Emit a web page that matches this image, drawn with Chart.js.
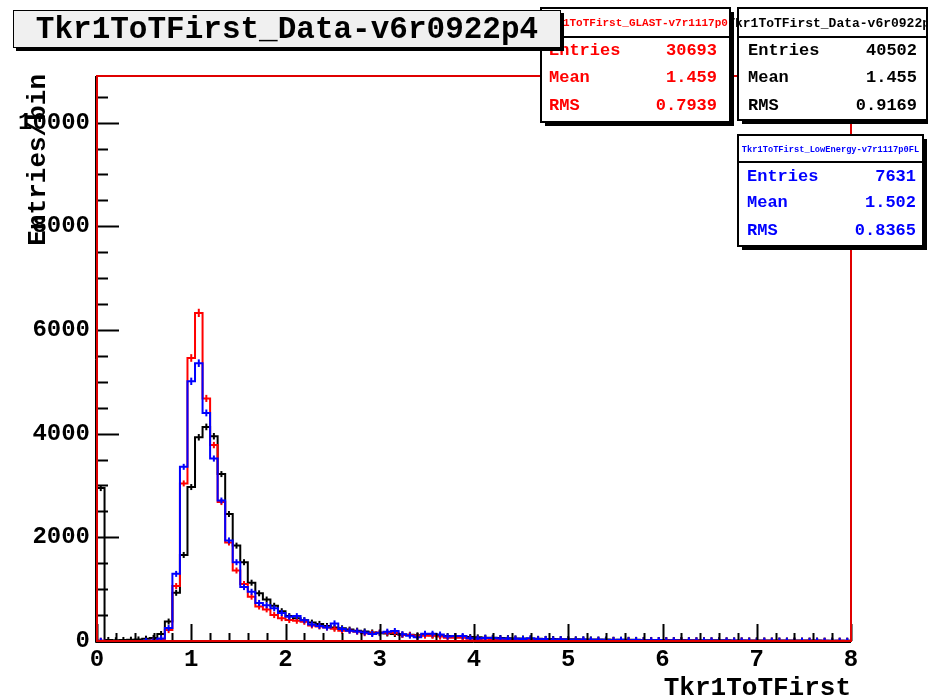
<!DOCTYPE html>
<html><head><meta charset="utf-8">
<script src="https://cdn.jsdelivr.net/npm/chart.js@4.4.1/dist/chart.umd.min.js"></script>
<style>html,body{margin:0;padding:0;background:#fff;overflow:hidden}#wrap{width:928px;height:699px;position:relative}</style>
</head><body><div id="wrap"><canvas id="c" width="928" height="699"></canvas></div>
<script>
// ---- binning ----
const xMin = 0, xMax = 8, nBins = 100;
const yMax = 10900;
const xTickValues = [0, 1, 2, 3, 4, 5, 6, 7, 8];
const yTickValues = [0, 2000, 4000, 6000, 8000, 10000];

// ---- series (entries per bin, 100 bins of width 0.08) ----
const dataCounts = [
  2950, 20, 15, 20, 25, 30, 45, 60, 135, 375,
  930, 1660, 2970, 3930, 4130, 3950, 3220, 2450, 1840, 1520,
  1125, 920, 800, 680, 575, 480, 440, 400, 355, 330,
  290, 260, 245, 220, 200, 185, 165, 150, 145, 135,
  125, 120, 110, 120, 110, 100, 95, 90, 80, 75,
  70, 65, 62, 58, 55, 50, 48, 45, 42, 40,
  38, 36, 34, 33, 31, 30, 28, 27, 25, 24,
  23, 22, 21, 20, 19, 18, 17, 17, 16, 15,
  15, 14, 13, 13, 12, 12, 11, 11, 10, 10,
  9, 9, 9, 8, 8, 8, 7, 7, 7, 6
];
const glastCounts = [
  5, 0, 0, 0, 0, 0, 2, 8, 30, 210,
  1060, 3040, 5460, 6330, 4680, 3780, 2680, 1900, 1360, 1100,
  855, 665, 610, 500, 440, 405, 390, 370, 300, 280,
  260, 235, 200, 200, 180, 150, 148, 165, 160, 160,
  118, 115, 97, 103, 103, 85, 65, 65, 64, 45,
  40, 42, 38, 35, 30, 32, 28, 25, 27, 22,
  20, 22, 18, 17, 16, 18, 14, 13, 15, 12,
  11, 12, 10, 9, 11, 9, 8, 9, 7, 8,
  7, 6, 7, 6, 5, 6, 5, 5, 4, 5,
  4, 4, 3, 4, 3, 3, 3, 2, 3, 2
];
const lowEnergyCounts = [
  4, 0, 0, 0, 0, 0, 3, 10, 50, 250,
  1295, 3360, 5010, 5360, 4400, 3520, 2710, 1940, 1520, 1040,
  950, 735, 690, 630, 540, 470, 480, 400, 320, 290,
  260, 340, 232, 200, 185, 165, 135, 160, 180, 193,
  130, 103, 70, 140, 140, 125, 85, 97, 95, 55,
  50, 60, 60, 50, 45, 45, 40, 55, 35, 40,
  30, 35, 28, 25, 30, 22, 25, 20, 18, 22,
  16, 18, 15, 14, 17, 12, 13, 11, 12, 10,
  9, 11, 8, 9, 7, 8, 6, 7, 6, 5,
  6, 5, 4, 5, 4, 4, 3, 4, 3, 3
];

// ---- texts ----
const chartTitle = 'Tkr1ToTFirst_Data-v6r0922p4';
const xTitle = 'Tkr1ToTFirst';
const yTitle = 'Entries/bin';
const statLabels = ['Entries', 'Mean', 'RMS'];
const dataName = 'Tkr1ToTFirst_Data-v6r0922p4';
const dataStats = ['40502', '1.455', '0.9169'];
const glastName = 'Tkr1ToTFirst_GLAST-v7r1117p0';
const glastStats = ['30693', '1.459', '0.7939'];
const lowName = 'Tkr1ToTFirst_LowEnergy-v7r1117p0FL';
const lowStats = ['7631', '1.502', '0.8365'];

const FONT = '"Liberation Mono", "Courier New", monospace';
const binW = (xMax - xMin) / nBins;

function stepPoints(counts) {
  const pts = [{x: xMin, y: 0}];
  counts.forEach((v, i) => pts.push({x: xMin + i * binW, y: v}));
  pts.push({x: xMax, y: counts[counts.length - 1]});
  pts.push({x: xMax, y: 0});
  return pts;
}
function errPoints(counts) {
  return counts.map((v, i) => ({x: xMin + (i + 0.5) * binW, y: v > 0 ? v : null}));
}
function errRadius(ctx) {
  const s = ctx.chart.scales.y; const v = ctx.raw && ctx.raw.y;
  if (!v) return 0;
  return Math.max(3, s.getPixelForValue(0) - s.getPixelForValue(Math.sqrt(v)));
}
function histSet(counts, color, order) {
  return {type: 'line', data: stepPoints(counts), borderColor: color, borderWidth: 2,
    stepped: true, pointRadius: 0, fill: false, order: order, spanGaps: true};
}
function errSet(counts, color, order) {
  return {type: 'scatter', data: errPoints(counts), borderColor: color, backgroundColor: color,
    pointStyle: 'line', rotation: 90, borderWidth: 2, radius: errRadius, showLine: false, order: order};
}

const decorPlugin = {
  id: 'decor',
  afterDatasetsDraw(chart) {
    const ctx = chart.ctx, ca = chart.chartArea, xs = chart.scales.x, ys = chart.scales.y;
    ctx.save();
    // ticks inside frame
    ctx.strokeStyle = '#000'; ctx.lineWidth = 2;
    for (let k = 0; k * 500 <= yMax; k++) {
      const py = Math.round(ys.getPixelForValue(k * 500)) + 0.5;
      const len = (k % 4 === 0) ? 22 : 11;
      ctx.beginPath(); ctx.moveTo(ca.left, py); ctx.lineTo(ca.left + len, py); ctx.stroke();
    }
    for (let k = 0; k <= 40; k++) {
      const px = Math.round(xs.getPixelForValue(xMin + k * 0.2)) + 0.5;
      const len = (k % 5 === 0) ? 17 : 8;
      ctx.beginPath(); ctx.moveTo(px, ca.bottom); ctx.lineTo(px, ca.bottom - len); ctx.stroke();
    }
    // frame
    ctx.strokeStyle = '#000'; ctx.lineWidth = 1;
    ctx.beginPath(); ctx.moveTo(ca.left - 1.5, ca.top); ctx.lineTo(ca.left - 1.5, ca.bottom + 1.5); ctx.lineTo(ca.right, ca.bottom + 1.5); ctx.stroke();
    ctx.strokeStyle = '#e00000'; ctx.lineWidth = 2;
    ctx.strokeRect(ca.left, ca.top, ca.right - ca.left, ca.bottom - ca.top);
    ctx.restore();
  },
  afterDraw(chart) {
    const ctx = chart.ctx, ca = chart.chartArea;
    ctx.save();
    // axis titles
    ctx.fillStyle = '#000';
    ctx.font = 'bold 26px ' + FONT;
    ctx.textAlign = 'right'; ctx.textBaseline = 'alphabetic';
    ctx.fillText(xTitle, ca.right, 695);
    ctx.save();
    ctx.translate(45, 74); ctx.rotate(-Math.PI / 2);
    ctx.textAlign = 'right';
    ctx.fillText(yTitle, 0, 0);
    ctx.restore();

    function statBox(x, y, w, h, hh, color, name, nameFont, vals, rowYs, lx, rx) {
      ctx.fillStyle = '#000';
      ctx.fillRect(x + 4, y + 4, w, h);
      ctx.fillStyle = '#fff';
      ctx.fillRect(x, y, w, h);
      ctx.strokeStyle = '#000'; ctx.lineWidth = 2;
      ctx.strokeRect(x, y, w, h);
      ctx.beginPath(); ctx.moveTo(x, y + hh); ctx.lineTo(x + w, y + hh); ctx.stroke();
      ctx.fillStyle = color;
      ctx.font = 'bold ' + nameFont + 'px ' + FONT;
      ctx.textAlign = 'center'; ctx.textBaseline = 'middle';
      ctx.fillText(name, x + w / 2, y + hh / 2 + 1);
      ctx.font = 'bold 17px ' + FONT;
      for (let i = 0; i < statLabels.length; i++) {
        ctx.textAlign = 'left'; ctx.fillText(statLabels[i], lx, rowYs[i]);
        ctx.textAlign = 'right'; ctx.fillText(vals[i], rx, rowYs[i]);
      }
    }
    statBox(738, 8, 189, 112, 29, '#000000', dataName, 13, dataStats, [51, 78, 106], 748, 917);
    statBox(541, 8, 189, 114, 29, '#ff0000', glastName, 11, glastStats, [51, 78, 106], 549, 717);
    statBox(738, 135, 185, 111, 27, '#0000ff', lowName, 8.7, lowStats, [177, 203, 231], 747, 916);

    // title box
    ctx.fillStyle = '#000';
    ctx.fillRect(16, 13, 548, 38);
    ctx.fillStyle = '#f0f0f0';
    ctx.fillRect(13, 10, 548, 38);
    ctx.strokeStyle = '#000'; ctx.lineWidth = 1;
    ctx.strokeRect(13.5, 10.5, 547, 37);
    ctx.fillStyle = '#000';
    ctx.font = 'bold 31px ' + FONT;
    ctx.textAlign = 'center'; ctx.textBaseline = 'middle';
    ctx.fillText(chartTitle, 287, 30);
    ctx.restore();
  }
};

new Chart(document.getElementById('c'), {
  data: {
    datasets: [
      histSet(dataCounts, '#000000', 6), errSet(dataCounts, '#000000', 5),
      histSet(glastCounts, '#ff0000', 4), errSet(glastCounts, '#ff0000', 3),
      histSet(lowEnergyCounts, '#0000ff', 2), errSet(lowEnergyCounts, '#0000ff', 1)
    ]
  },
  options: {
    responsive: false, animation: false, devicePixelRatio: 1,
    layout: {padding: {top: 76, right: 77, left: 0, bottom: 0}},
    plugins: {legend: {display: false}, tooltip: {enabled: false}, title: {display: false}},
    scales: {
      x: {
        type: 'linear', min: xMin, max: xMax,
        grid: {display: false, drawTicks: false}, border: {display: false},
        afterFit: s => { s.height = 58; },
        afterBuildTicks: s => { s.ticks = xTickValues.map(v => ({value: v})); },
        ticks: {padding: 5, color: '#000', font: {family: FONT, size: 24, weight: 'bold'}, maxRotation: 0,
          callback: v => String(v)}
      },
      y: {
        type: 'linear', min: 0, max: yMax,
        grid: {display: false, drawTicks: false}, border: {display: false},
        afterFit: s => { s.width = 97; },
        afterBuildTicks: s => { s.ticks = yTickValues.map(v => ({value: v})); },
        ticks: {padding: 7, color: '#000', font: {family: FONT, size: 24, weight: 'bold'},
          callback: v => String(v)}
      }
    }
  },
  plugins: [decorPlugin]
});
</script>
</body></html>
